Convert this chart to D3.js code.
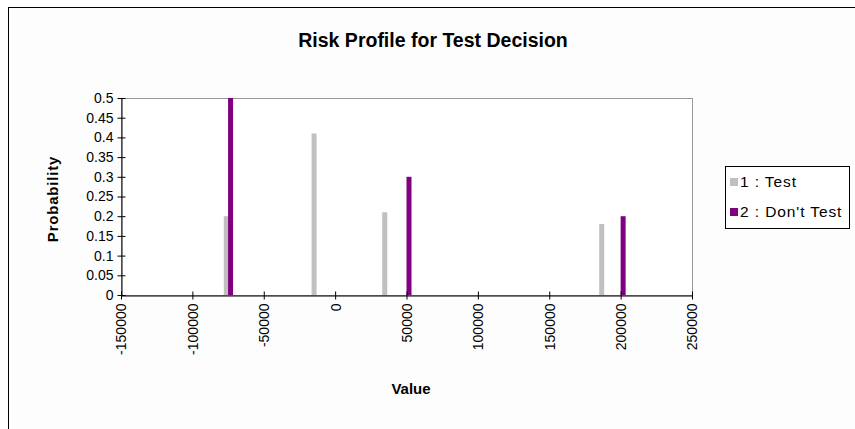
<!DOCTYPE html>
<html>
<head>
<meta charset="utf-8">
<script src="https://cdn.jsdelivr.net/npm/d3@7"></script>
<style>
  html, body { margin: 0; padding: 0; background: #fff; }
  svg { display: block; }
  text { font-family: "Liberation Sans", Arial, sans-serif; fill: #000; }
</style>
</head>
<body>
<svg id="chart" width="855" height="429"></svg>
<script>
// Risk profile: outcome value vs probability for each decision alternative
const xTicks = [-150000, -100000, -50000, 0, 50000, 100000, 150000, 200000, 250000];
const yTicks = [0, 0.05, 0.1, 0.15, 0.2, 0.25, 0.3, 0.35, 0.4, 0.45, 0.5];

const testValues = [-78000, -16500, 33000, 185000];
const testProbs  = [0.2, 0.41, 0.21, 0.18];

const dontValues = [-75000, 50000, 200000];
const dontProbs  = [0.5, 0.3, 0.2];

const seriesNames  = ["1 : Test", "2 : Don't Test"];
const seriesColors = ["#c0c0c0", "#800080"];

const svg = d3.select("#chart");

// chart area frame
svg.append("rect")
  .attr("x", 8.5).attr("y", 7.5)
  .attr("width", 860).attr("height", 440)
  .attr("fill", "#fdfdfd").attr("stroke", "#000").attr("stroke-width", 1);

const plot = { left: 121, right: 692, top: 98, bottom: 295 };

const x = d3.scaleLinear().domain([-150000, 250000]).range([plot.left, plot.right]);
const y = d3.scaleLinear().domain([0, 0.5]).range([plot.bottom, plot.top]);

// plot area
svg.append("rect")
  .attr("x", plot.left + 0.5).attr("y", plot.top + 0.5)
  .attr("width", plot.right - plot.left).attr("height", plot.bottom - plot.top)
  .attr("fill", "#fff").attr("stroke", "#999").attr("stroke-width", 1);

// title
svg.append("text")
  .attr("x", 433).attr("y", 47)
  .attr("text-anchor", "middle")
  .style("font-size", "19.5px").style("font-weight", "bold")
  .text("Risk Profile for Test Decision");

// bars
const barW = 5;
function drawBars(values, probs, color) {
  svg.append("g").selectAll("rect")
    .data(values.map((v, i) => ({ v, p: probs[i] })))
    .join("rect")
    .attr("x", d => x(d.v))
    .attr("y", d => y(d.p))
    .attr("width", barW)
    .attr("height", d => y(0) - y(d.p))
    .attr("fill", color);
}
drawBars(testValues, testProbs, seriesColors[0]);
drawBars(dontValues, dontProbs, seriesColors[1]);

// y axis
const yAxis = svg.append("g")
  .attr("transform", `translate(${plot.left + 0.5},0)`)
  .call(d3.axisLeft(y).tickValues(yTicks).tickFormat(d => String(d)).tickSizeInner(4).tickSizeOuter(0).tickPadding(5));
yAxis.select(".domain").attr("stroke", "#000");
yAxis.selectAll(".tick line").attr("x2", 4).attr("x1", -4).attr("stroke", "#000");
yAxis.selectAll(".tick text").style("font-size", "14px").attr("x", -8).style("font-family", "Liberation Sans, Arial, sans-serif");

// x axis
const xAxis = svg.append("g")
  .attr("transform", `translate(0,${plot.bottom + 0.5})`)
  .call(d3.axisBottom(x).tickValues(xTicks).tickFormat(d => String(d)).tickSizeInner(4).tickSizeOuter(0));
xAxis.select(".domain").attr("stroke", "#000");
xAxis.selectAll(".tick line").attr("y1", -4).attr("y2", 4).attr("stroke", "#000");
xAxis.selectAll(".tick text")
  .style("font-size", "14px")
  .style("font-family", "Liberation Sans, Arial, sans-serif")
  .attr("transform", "rotate(-90)")
  .attr("text-anchor", "end")
  .attr("x", -8).attr("y", 0).attr("dy", "0.35em");

// axis titles
svg.append("text")
  .attr("transform", "translate(58,199) rotate(-90)")
  .attr("text-anchor", "middle")
  .style("font-size", "15px").style("font-weight", "bold")
  .style("letter-spacing", "0.8px")
  .text("Probability");

svg.append("text")
  .attr("x", 411).attr("y", 394)
  .attr("text-anchor", "middle")
  .style("font-size", "15px").style("font-weight", "bold")
  .text("Value");

// legend
const legend = svg.append("g");
legend.append("rect")
  .attr("x", 725.5).attr("y", 166.5)
  .attr("width", 124).attr("height", 62)
  .attr("fill", "#fff").attr("stroke", "#000");
seriesNames.forEach((name, i) => {
  const cy = 182 + i * 30;
  legend.append("rect")
    .attr("x", 730).attr("y", cy - 4)
    .attr("width", 8).attr("height", 8)
    .attr("fill", seriesColors[i]);
  legend.append("text")
    .attr("x", 740).attr("y", cy + 5)
    .style("font-size", "15.5px")
    .style("letter-spacing", "0.9px")
    .text(name);
});
</script>
</body>
</html>
